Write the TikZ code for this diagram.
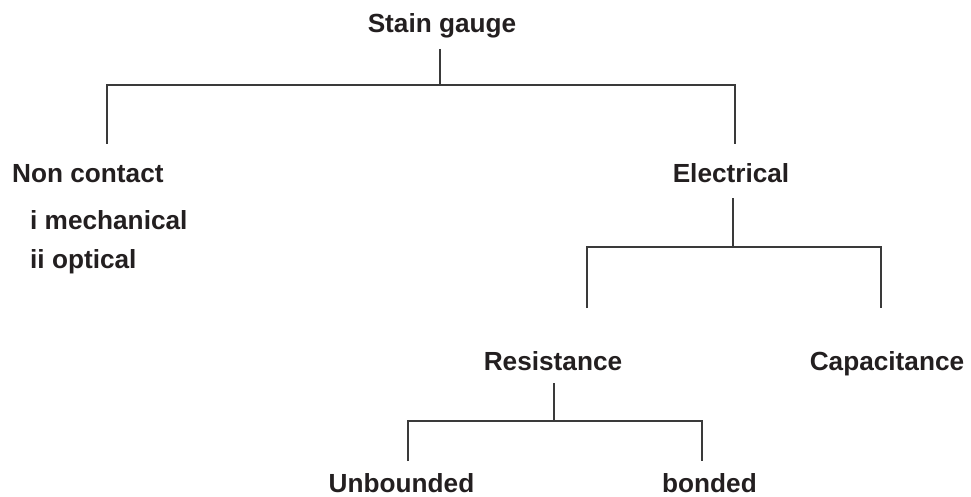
\documentclass[tikz,border=0pt]{standalone}
\usepackage{fontspec}
\setmainfont{Liberation Sans}
\definecolor{ink}{HTML}{231F20}
\definecolor{wire}{HTML}{3A3A3A}
\tikzset{
  lbl/.style={inner sep=0pt, text=ink, font=\fontsize{26.2}{30}\selectfont\bfseries},
  wirestyle/.style={draw=wire, line width=1.1pt}
}
\begin{document}
\begin{tikzpicture}[x=1pt,y=-1pt]
\useasboundingbox (0,0) rectangle (971,497);
% labels
\node[lbl, anchor=base] (sg) at (442,32.7) {Stain gauge};
\node[lbl, anchor=base west] (nc) at (12,182.3) {Non contact};
\node[lbl, anchor=base west] (m1) at (30,229.3) {i mechanical};
\node[lbl, anchor=base west] (m2) at (30,268.3) {ii optical};
\node[lbl, anchor=base] (el) at (731,182.3) {Electrical};
\node[lbl, anchor=base] (rs) at (553,370) {Resistance};
\node[lbl, anchor=base] (cp) at (887,370) {Capacitance};
\node[lbl, anchor=base] (ub) at (401.5,492) {Unbounded};
\node[lbl, anchor=base] (bd) at (709.5,492) {bonded};
% connector end points
\coordinate (sg-b) at (440,49);
\coordinate (sg-j) at (440,85);
\coordinate (nc-t) at (107,144);
\coordinate (el-t) at (735,144);
\coordinate (el-b) at (733,198);
\coordinate (el-j) at (733,247);
\coordinate (rs-t) at (587,308);
\coordinate (cp-t) at (881,308);
\coordinate (rs-b) at (554,383);
\coordinate (rs-j) at (554,421);
\coordinate (ub-t) at (408,461);
\coordinate (bd-t) at (702,461);
% connectors
\draw[wirestyle] (sg-b) -- (sg-j);
\draw[wirestyle] (nc-t) |- (sg-j) -| (el-t);
\draw[wirestyle] (el-b) -- (el-j);
\draw[wirestyle] (rs-t) |- (el-j) -| (cp-t);
\draw[wirestyle] (rs-b) -- (rs-j);
\draw[wirestyle] (ub-t) |- (rs-j) -| (bd-t);
\end{tikzpicture}
\end{document}
